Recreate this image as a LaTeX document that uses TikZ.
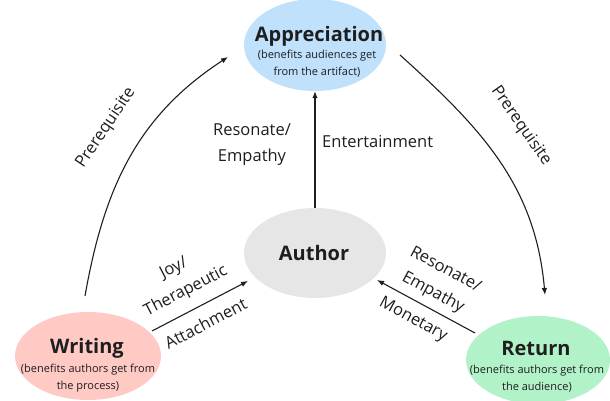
\documentclass[tikz,border=0pt]{standalone}
\usepackage{fontspec}
\setmainfont{Open Sans}
\usetikzlibrary{arrows.meta,shapes.geometric}
\definecolor{appblue}{HTML}{BFE1FC}
\definecolor{authgray}{HTML}{E6E6E6}
\definecolor{writepink}{HTML}{FFC9C4}
\definecolor{retgreen}{HTML}{B2F2C8}
\definecolor{ink}{HTML}{1E1E1E}
\tikzset{
  blob/.style={ellipse, draw=none, inner sep=0pt},
  conn/.style={draw=ink, line width=1.1pt, -{Latex[length=7pt,width=5.5pt]}},
  lbl/.style={font=\fontsize{16.5}{26}\selectfont, text=ink, align=center, inner sep=0pt},
  ttl/.style={font=\fontsize{20}{24}\selectfont\bfseries, text=ink, inner sep=0pt},
  sub/.style={font=\fontsize{11}{17}\selectfont, text=ink, align=center, inner sep=0pt},
}
\begin{document}
\begin{tikzpicture}[x=1pt,y=1pt]
\useasboundingbox (0,0) rectangle (610,400);
% ellipses
\node[blob, fill=appblue, minimum width=142pt, minimum height=92pt] (app) at (315,355) {};
\node[blob, fill=authgray, minimum width=142pt, minimum height=90pt] (author) at (315,147) {};
\node[blob, fill=writepink, minimum width=146pt, minimum height=88pt] (writing) at (88,44) {};
\node[blob, fill=retgreen, minimum width=144pt, minimum height=88pt] (return) at (538,40) {};
% titles
\node[ttl] (appT) at (319,364) {Appreciation};
\node[sub] (appS) at (317,336.5) {(benefits audiences get\\from the artifact)};
\node[ttl] (authT) at (314,147) {Author};
\node[ttl] (wrT) at (87,52) {Writing};
\node[sub] (wrS) at (88,21.5) {(benefits authors get from\\the process)};
\node[ttl] (retT) at (536,52) {Return};
\node[sub] (retS) at (537,21.5) {(benefits authors get from\\the audience)};
% connector endpoints
\coordinate (wA) at (152,69);
\coordinate (wB) at (248,119);
\coordinate (rA) at (475,67);
\coordinate (rB) at (377,120);
\coordinate (lA) at (85,104);
\coordinate (lB) at (228,343);
\coordinate (pA) at (400,345);
\coordinate (pB) at (545,105);
% connectors
\draw[conn] (author.north) -- (app.south);
\draw[conn] (wA) -- (wB);
\draw[conn] (rA) -- (rB);
\draw[conn] (lA) to[out=80,in=-147] (lB);
\draw[conn] (pA) to[out=-42,in=95] (pB);
% labels
\node[lbl] (resL) at (252,255.5) {Resonate/\\Empathy};
\node[lbl, anchor=west] (ent) at (322,258) {Entertainment};
\node[lbl, rotate=27.5] (joy) at (180,120) {Joy/\\Therapeutic};
\node[lbl, rotate=27.5] (att) at (205.5,76.5) {Attachment};
\node[lbl, rotate=-28.4] (resR) at (439,118.5) {Resonate/\\Empathy};
\node[lbl, rotate=-28.4] (mon) at (413,80) {Monetary};
\node[lbl, rotate=56] (preL) at (106,272) {Prerequisite};
\node[lbl, rotate=-55] (preR) at (521,274) {Prerequisite};
\end{tikzpicture}
\end{document}
